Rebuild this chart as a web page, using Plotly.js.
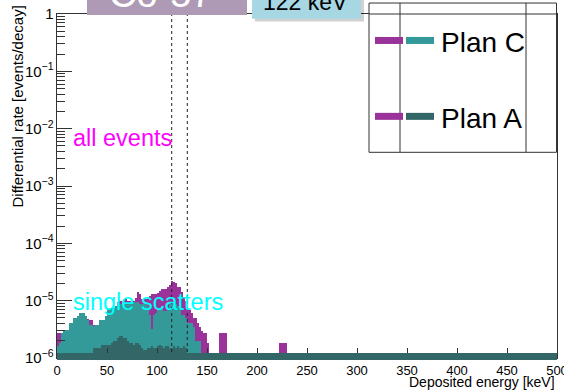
<!DOCTYPE html>
<html>
<head>
<meta charset="utf-8">
<script src="https://cdn.plot.ly/plotly-3.0.1.min.js"></script>
<style>
  html, body { margin: 0; padding: 0; background: #ffffff; }
  #chart { width: 564px; height: 391px; }
</style>
</head>
<body>
<div id="chart"></div>
<script>
// Histogram binning: 2 keV bins starting at 0 keV; rates listed in units of 1e-6 events/decay
const binWidth = 2;
const firstBinStart = 0;
const rateUnit = 1e-6;

// Plan C, all events (0 - 152 keV)
const planCAll = [
  2.75, 2.75, 2.75, 3.0, 3.11, 3.11, 4.13, 4.13, 5.06, 5.06,
  5.5, 6.2, 6.2, 6.2, 5.5, 4.8, 4.67, 4.67, 3.8, 3.81,
  3.81, 4.67, 4.67, 4.67, 5.5, 7.0, 7.6, 7.6, 7.6, 8.0,
  9.3, 10.0, 10.0, 10.5, 10.5, 10.0, 10.0, 10.0, 10.0, 11.0,
  14.0, 13.0, 10.5, 10.5, 10.5, 11.0, 12.0, 12.9, 12.9, 12.9,
  13.5, 14.5, 15.8, 15.8, 16.0, 17.0, 19.0, 22.0, 21.0, 20.0,
  17.0, 17.0, 14.0, 11.4, 10.0, 7.0, 7.0, 6.0, 5.0, 5.0,
  4.1, 3.5, 3.0, 2.75, 2.75, 1.8
];
// Plan C, all events: isolated bins above 152 keV
const planCAllExtraEnergy = [162, 164, 166, 168, 222, 224, 226, 228];
const planCAllExtraRate = [2.75, 2.75, 2.75, 2.75, 1.8, 1.8, 1.8, 1.8];

// Plan C, single scatters (0 - 152 keV)
const planCSingle = [
  1.6, 1.84, 2.75, 3.0, 3.11, 3.11, 4.13, 4.13, 5.06, 5.06,
  5.5, 6.2, 6.2, 6.2, 5.5, 4.67, 3.81, 3.81, 3.6, 3.81,
  3.81, 4.67, 4.67, 4.67, 5.5, 7.0, 7.6, 7.6, 7.6, 8.0,
  8.0, 8.6, 8.6, 9.3, 9.3, 9.3, 9.3, 9.3, 9.3, 9.3,
  9.3, 8.6, 8.6, 8.6, 8.6, 8.0, 5.7, 3.2, 5.7, 6.2,
  7.6, 7.6, 7.6, 6.5, 6.5, 7.6, 8.6, 8.6, 8.6, 8.6,
  8.0, 8.0, 5.7, 5.7, 5.0, 4.1, 4.1, 4.1, 3.5, 2.0,
  2.0, 2.0, 0, 0, 0, 0
];

// Plan A, single scatters (0 - 152 keV)
const planASingle = [
  0, 0, 0, 0, 0, 0, 0, 0, 0, 0,
  0, 0, 0, 0, 0, 0, 0, 0, 1.5, 1.5,
  1.5, 1.5, 1.7, 1.7, 1.7, 1.7, 1.7, 1.8, 2.0, 2.0,
  2.2, 2.4, 2.4, 2.25, 2.25, 2.0, 1.84, 1.84, 1.7, 1.84,
  1.84, 1.7, 1.5, 1.4, 1.4, 1.5, 1.5, 1.6, 1.5, 1.5,
  1.6, 1.7, 1.6, 1.5, 1.6, 1.6, 1.5, 1.5, 1.6, 1.5,
  1.6, 1.5, 1.5, 1.6, 1.5, 0, 0, 0, 0, 0,
  0, 0, 0, 0, 0, 0
];

// Energy window around the 122 keV line
const windowEdges = [114.7, 130.3];

const legendLabels = ['Plan C', 'Plan A'];
const xTickStep = 50;
const xRange = [0, 500];
const yDecades = [-6, 0];

const MAGENTA = '#993399';
const TEAL = '#339999';
const DARK_TEAL = '#336666';
const FONT = 'Liberation Sans, Arial, Helvetica, sans-serif';

function binCenters(n) {
  const out = [];
  for (let i = 0; i < n; i++) out.push(firstBinStart + i * binWidth + binWidth / 2);
  return out;
}
function toRate(arr) {
  return arr.map(v => (v > 0 ? v * rateUnit : null));
}

function histTrace(xs, ys, color, name) {
  return {
    type: 'bar',
    name: name,
    x: xs,
    y: ys,
    width: binWidth,
    marker: { color: color, line: { width: 0 } },
    hoverinfo: 'skip'
  };
}

const centers = binCenters(planCAll.length);
const allX = centers.concat(planCAllExtraEnergy.map(e => e + binWidth / 2));
const allY = toRate(planCAll).concat(toRate(planCAllExtraRate));

const traces = [
  histTrace(allX, allY, MAGENTA, 'Plan C all events'),
  histTrace(centers, toRate(planCSingle), TEAL, 'Plan C single scatters'),
  histTrace(binCenters(planASingle.length), toRate(planASingle), DARK_TEAL, 'Plan A single scatters')
];

// Pixel helpers for frame decorations (plot area 57..557 x 13.5..358)
const W = 564, H = 391;
const M = { l: 57, r: 7, t: 13.5, b: 33 };
const PW = W - M.l - M.r, PH = H - M.t - M.b;
const px = x => (x - M.l) / PW;
const py = y => (H - M.b - y) / PH;

const frameColor = '#333333';
const shapes = [];

// window markers
windowEdges.forEach(e => shapes.push({
  type: 'line', xref: 'x', yref: 'paper', x0: e, x1: e, y0: 0, y1: 1,
  line: { color: '#222', width: 1, dash: '3px,3px' }, layer: 'above'
}));

// thick outline of empty bins along the lower edge
shapes.push({
  type: 'line', xref: 'paper', yref: 'paper', x0: 0, x1: 1, y0: py(356.5), y1: py(356.5),
  line: { color: DARK_TEAL, width: 7 }, layer: 'above'
});

// legend frame
shapes.push({
  type: 'rect', xref: 'paper', yref: 'paper', x0: px(369), x1: px(556.5), y0: py(152), y1: py(2.5),
  fillcolor: '#ffffff', line: { color: frameColor, width: 1 }, layer: 'above'
});
[400, 526].forEach(x => shapes.push({
  type: 'line', xref: 'paper', yref: 'paper', x0: px(x), x1: px(x), y0: py(152), y1: py(2.5),
  line: { color: frameColor, width: 1 }, layer: 'above'
}));
shapes.push({
  type: 'line', xref: 'paper', yref: 'paper', x0: px(369), x1: px(556.5), y0: 1, y1: 1,
  line: { color: frameColor, width: 1 }, layer: 'above'
});
// legend swatches
const legendRows = [40, 116];
const legendColors = [[MAGENTA, TEAL], [MAGENTA, DARK_TEAL]];
legendRows.forEach((row, i) => {
  shapes.push({
    type: 'line', xref: 'paper', yref: 'paper', x0: px(375), x1: px(403), y0: py(row), y1: py(row),
    line: { color: legendColors[i][0], width: 7 }, layer: 'above'
  });
  shapes.push({
    type: 'line', xref: 'paper', yref: 'paper', x0: px(406), x1: px(434), y0: py(row), y1: py(row),
    line: { color: legendColors[i][1], width: 7 }, layer: 'above'
  });
});

// title panels at the top edge
shapes.push({
  type: 'rect', xref: 'paper', yref: 'paper', x0: px(87), x1: px(247), y0: py(14.5), y1: py(-10),
  fillcolor: '#ae9ab4', line: { width: 0 }, layer: 'above'
});
shapes.push({
  type: 'rect', xref: 'paper', yref: 'paper', x0: px(255), x1: px(364), y0: py(21), y1: py(-10),
  fillcolor: 'rgba(0,0,0,0.18)', line: { width: 0 }, layer: 'above'
});
shapes.push({
  type: 'rect', xref: 'paper', yref: 'paper', x0: px(252), x1: px(361), y0: py(18.3), y1: py(-10),
  fillcolor: '#a6d7e3', line: { width: 0 }, layer: 'above'
});

const annotations = [
  { text: 'Co-57', xref: 'paper', yref: 'paper', x: px(161), y: py(-7), xanchor: 'center', yanchor: 'middle',
    showarrow: false, font: { family: FONT, size: 38, color: '#ffffff' } },
  { text: '122 keV', xref: 'paper', yref: 'paper', x: px(305), y: py(1), xanchor: 'center', yanchor: 'middle',
    showarrow: false, font: { family: FONT, size: 23, color: '#000000' } },
  { text: 'all events', xref: 'paper', yref: 'paper', x: px(71), y: py(138), xanchor: 'left', yanchor: 'middle',
    showarrow: false, font: { family: FONT, size: 23.5, color: '#ff00ff' } },
  { text: 'single scatters', xref: 'paper', yref: 'paper', x: px(71), y: py(302), xanchor: 'left', yanchor: 'middle',
    showarrow: false, font: { family: FONT, size: 23.5, color: '#00ffff' } },
  { text: 'Deposited energy [keV]', xref: 'paper', yref: 'paper', x: 1, y: py(382), xanchor: 'right', yanchor: 'middle',
    showarrow: false, font: { family: FONT, size: 14, color: '#000000' } },
  { text: 'Differential rate [events/decay]', xref: 'paper', yref: 'paper', x: px(18), y: py(3), xanchor: 'center', yanchor: 'top',
    textangle: -90, showarrow: false, font: { family: FONT, size: 15, color: '#000000' } }
];
legendLabels.forEach((label, i) => annotations.push({
  text: label, xref: 'paper', yref: 'paper', x: px(439), y: py(legendRows[i] + 2), xanchor: 'left', yanchor: 'middle',
  showarrow: false, font: { family: FONT, size: 28, color: '#000000' }
}));

const layout = {
  width: W, height: H,
  margin: { l: M.l, r: M.r, t: M.t, b: M.b, pad: 0 },
  paper_bgcolor: '#ffffff', plot_bgcolor: '#ffffff',
  barmode: 'overlay', bargap: 0,
  showlegend: false,
  font: { family: FONT, size: 13, color: '#000000' },
  xaxis: {
    range: xRange, tick0: 0, dtick: xTickStep,
    ticks: 'inside', ticklen: 10, tickwidth: 1, tickcolor: frameColor,
    minor: { dtick: 10, ticks: 'inside', ticklen: 5, tickcolor: frameColor },
    showline: true, linecolor: frameColor, linewidth: 1, mirror: true,
    showgrid: false, zeroline: false, ticklabeloverflow: 'allow',
    tickfont: { family: FONT, size: 13, color: '#000' }
  },
  yaxis: {
    type: 'log', range: yDecades, dtick: 1, exponentformat: 'power',
    ticks: 'inside', ticklen: 15, tickwidth: 1, tickcolor: frameColor,
    minor: { dtick: 'D1', ticks: 'inside', ticklen: 7.5, tickcolor: frameColor },
    showline: true, linecolor: frameColor, linewidth: 1, mirror: true,
    showgrid: false, zeroline: false, ticklabeloverflow: 'allow',
    tickfont: { family: FONT, size: 12, color: '#000' }
  },
  shapes: shapes,
  annotations: annotations
};

Plotly.newPlot('chart', traces, layout, { staticPlot: true, displayModeBar: false });
</script>
</body>
</html>
